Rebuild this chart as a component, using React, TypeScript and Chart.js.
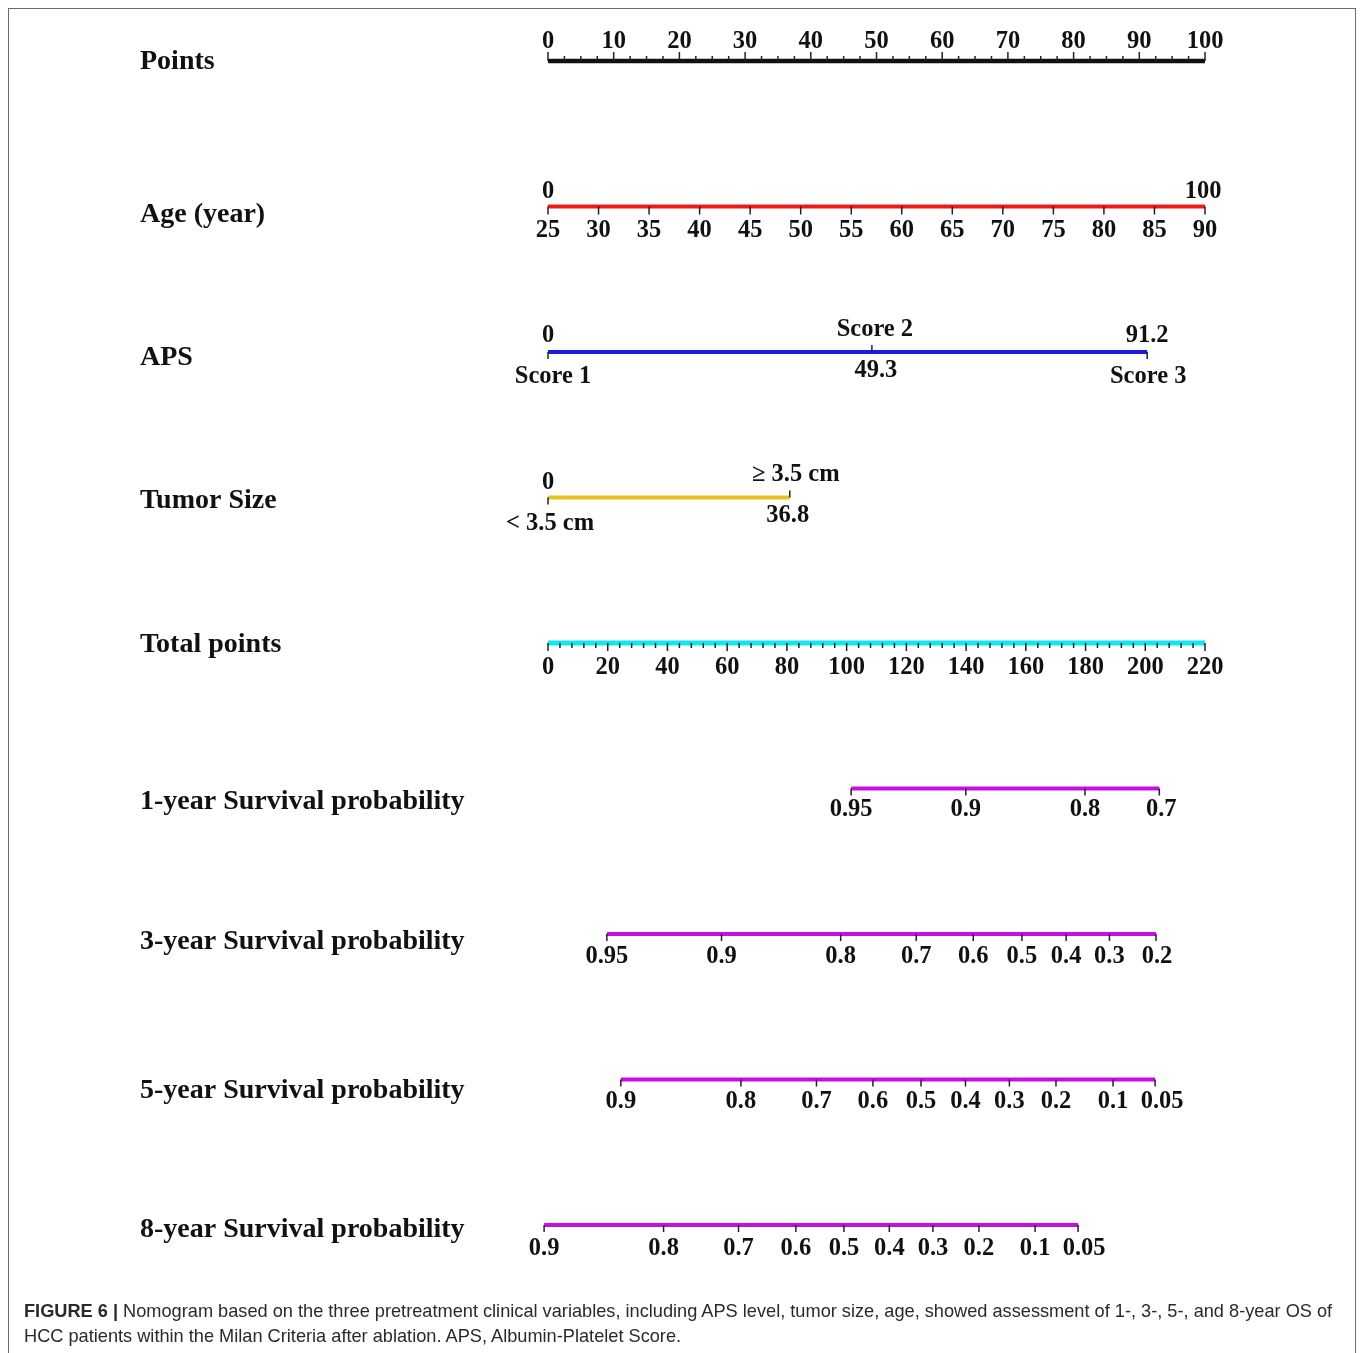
import React, { useEffect, useRef } from "react";
import { Chart, registerables } from "chart.js";

Chart.register(...registerables);

// ---- nomogram content ----
const rowTitles = [
  "Points",
  "Age (year)",
  "APS",
  "Tumor Size",
  "Total points",
  "1-year Survival probability",
  "3-year Survival probability",
  "5-year Survival probability",
  "8-year Survival probability",
];

// Points scale, 0–100
const pointsTicks = [0, 10, 20, 30, 40, 50, 60, 70, 80, 90, 100];
const pointsMinorStep = 2.5;

// Age (years): 25 y -> 0 points, 90 y -> 100 points
const ageTicks = [25, 30, 35, 40, 45, 50, 55, 60, 65, 70, 75, 80, 85, 90];
const ageRange = [25, 90];
const agePointsRange = [0, 100];

// APS levels and their points
const apsLevels = ["Score 1", "Score 2", "Score 3"];
const apsPoints = [0, 49.3, 91.2];

// Tumor size levels and their points
const tumorLevels = ["< 3.5 cm", "\u2265 3.5 cm"];
const tumorPoints = [0, 36.8];

// Total points scale
const totalTicks = [0, 20, 40, 60, 80, 100, 120, 140, 160, 180, 200, 220];
const totalMinorStep = 4;
const totalMax = 220;

// Survival probabilities and the total points where they fall
const surv1Labels = ["0.95", "0.9", "0.8", "0.7"];
const surv1Total = [101.5, 139.9, 179.8, 204.7];

const surv3Labels = ["0.95", "0.9", "0.8", "0.7", "0.6", "0.5", "0.4", "0.3", "0.2"];
const surv3Total = [19.7, 58.1, 98.0, 123.3, 142.4, 158.7, 173.5, 188.0, 203.6];

const surv5Labels = ["0.9", "0.8", "0.7", "0.6", "0.5", "0.4", "0.3", "0.2", "0.1", "0.05"];
const surv5Total = [24.4, 64.6, 89.9, 108.8, 124.9, 139.8, 154.5, 170.1, 189.2, 203.3];

const surv8Labels = ["0.9", "0.8", "0.7", "0.6", "0.5", "0.4", "0.3", "0.2", "0.1", "0.05"];
const surv8Total = [-1.3, 38.7, 63.8, 83.0, 99.1, 114.3, 128.9, 144.3, 163.1, 177.5];

// ---- layout & style ----
const W = 1360;
const H = 1290;
const AXIS_LEFT = 548; // pixel of 0 points
const AXIS_RIGHT = 1205; // pixel of 100 points
const ROW0_Y = 61;
const ROW_GAP = 145.5;
const TITLE_X = 140;
// vertical nudge of each row title relative to its scale line
const TITLE_DY = [1, 8, 6, 3, 2, 13, 8, 11, 5];

const COLORS = {
  points: "#111111",
  age: "#ee1c16",
  aps: "#1a1ae0",
  tumor: "#e6c21c",
  total: "#12e6ee",
  surv: "#c80ee6",
  tick: "#222222",
  text: "#111111",
};

const SERIF = '"Liberation Serif", "Times New Roman", serif';
const TICK_FONT = `bold 24.5px ${SERIF}`;

const agePts = (a: number) =>
  agePointsRange[0] + ((a - ageRange[0]) / (ageRange[1] - ageRange[0])) * (agePointsRange[1] - agePointsRange[0]);
const totalPts = (t: number) => (t * 100) / totalMax;

const survRows = [
  { labels: surv1Labels, total: surv1Total, labelDy: 21, lastDx: 2 },
  { labels: surv3Labels, total: surv3Total, labelDy: 23, lastDx: 1 },
  { labels: surv5Labels, total: surv5Total, labelDy: 22, lastDx: 7 },
  { labels: surv8Labels, total: surv8Total, labelDy: 24, lastDx: 6 },
];

const seg = (a: number, b: number, row: number) => [
  { x: a, y: row },
  { x: b, y: row },
];

const nomogramPlugin = {
  id: "nomogramAxes",
  afterDatasetsDraw(chart: any) {
    const ctx: CanvasRenderingContext2D = chart.ctx;
    const xs = chart.scales.x;
    const ys = chart.scales.y;
    const px = (v: number) => xs.getPixelForValue(v);
    const rowY = (i: number) => ys.getPixelForValue(i);

    ctx.save();
    ctx.strokeStyle = COLORS.tick;
    ctx.lineWidth = 1.5;
    const tick = (x: number, y: number, len: number) => {
      ctx.beginPath();
      ctx.moveTo(x, y);
      ctx.lineTo(x, y + len);
      ctx.stroke();
    };
    const label = (s: string, x: number, y: number) => {
      ctx.fillText(s, x, y);
    };

    // row titles
    ctx.fillStyle = COLORS.text;
    ctx.font = `bold 28px ${SERIF}`;
    ctx.textAlign = "left";
    ctx.textBaseline = "middle";
    rowTitles.forEach((t, i) => ctx.fillText(t, TITLE_X, rowY(i) + TITLE_DY[i]));

    ctx.font = TICK_FONT;
    ctx.textAlign = "center";

    // Points
    let y = rowY(0);
    for (let v = 0; v <= 100 + 1e-9; v += pointsMinorStep) {
      const major = pointsTicks.includes(v);
      tick(px(v), y, major ? -9 : -5);
    }
    pointsTicks.forEach((v) => label(String(v), px(v), y - 19));

    // Age
    y = rowY(1);
    ageTicks.forEach((a) => {
      tick(px(agePts(a)), y, 8);
      label(String(a), px(agePts(a)), y + 24);
    });
    label(String(agePointsRange[0]), px(agePointsRange[0]), y - 15);
    label(String(agePointsRange[1]), px(agePointsRange[1]) - 2, y - 15);

    // APS: alternate tick direction and label placement
    y = rowY(2);
    apsLevels.forEach((name, i) => {
      const p = apsPoints[i];
      const x = px(p);
      const up = i % 2 === 1;
      tick(x, y, up ? -7 : 7);
      if (up) {
        label(name, x + 3, y - 22);
        label(String(p), x + 4, y + 19);
      } else {
        label(String(p), x, y - 16);
        label(name, x + (i === 0 ? 5 : 1), y + 25);
      }
    });

    // Tumor size
    y = rowY(3);
    tumorLevels.forEach((name, i) => {
      const p = tumorPoints[i];
      const x = px(p);
      const up = i % 2 === 1;
      tick(x, y, up ? -7 : 7);
      if (up) {
        label(name, x + 6, y - 23);
        label(String(p), x - 2, y + 18);
      } else {
        label(String(p), x, y - 15);
        label(name, x + 2, y + 26);
      }
    });

    // Total points
    y = rowY(4);
    for (let t = 0; t <= totalMax + 1e-9; t += totalMinorStep) {
      const major = totalTicks.includes(t);
      tick(px(totalPts(t)), y, major ? 8 : 5);
    }
    totalTicks.forEach((t) => label(String(t), px(totalPts(t)), y + 25));

    // Survival probabilities
    survRows.forEach((r, k) => {
      const yy = rowY(5 + k);
      r.total.forEach((t, i) => {
        const x = px(totalPts(t));
        tick(x, yy, 7);
        const dx = i === r.total.length - 1 ? r.lastDx : 0;
        label(r.labels[i], x + dx, yy + r.labelDy);
      });
    });

    ctx.restore();
  },
};

export default function App() {
  const canvasRef = useRef<HTMLCanvasElement | null>(null);

  useEffect(() => {
    const canvas = canvasRef.current;
    if (!canvas) return;
    const ppu = (AXIS_RIGHT - AXIS_LEFT) / 100;

    const lineDs = (data: any[], color: string, width = 4) => ({
      data,
      borderColor: color,
      backgroundColor: color,
      borderWidth: width,
      pointRadius: 0,
      borderCapStyle: "butt" as const,
      tension: 0,
      clip: false as any,
    });

    const chart = new Chart(canvas, {
      type: "line",
      data: {
        datasets: [
          lineDs(seg(pointsTicks[0], pointsTicks[pointsTicks.length - 1], 0), COLORS.points, 4.5),
          lineDs(seg(agePts(ageRange[0]), agePts(ageRange[1]), 1), COLORS.age),
          lineDs(seg(apsPoints[0], apsPoints[apsPoints.length - 1], 2), COLORS.aps),
          lineDs(seg(tumorPoints[0], tumorPoints[tumorPoints.length - 1], 3), COLORS.tumor),
          lineDs(seg(totalPts(0), totalPts(totalMax), 4), COLORS.total, 5),
          ...survRows.map((r, k) =>
            lineDs(seg(totalPts(r.total[0]), totalPts(r.total[r.total.length - 1]), 5 + k), COLORS.surv)
          ),
        ],
      },
      options: {
        animation: false,
        responsive: false,
        devicePixelRatio: 1,
        layout: { padding: 0 },
        events: [],
        plugins: { legend: { display: false }, tooltip: { enabled: false } },
        scales: {
          x: {
            type: "linear",
            display: false,
            min: -AXIS_LEFT / ppu,
            max: (W - AXIS_LEFT) / ppu,
          },
          y: {
            type: "linear",
            display: false,
            reverse: true,
            min: -ROW0_Y / ROW_GAP,
            max: (H - ROW0_Y) / ROW_GAP,
          },
        },
      },
      plugins: [nomogramPlugin],
    });

    return () => chart.destroy();
  }, []);

  return (
    <div>
      <div
        style={{
          position: "fixed",
          left: 8,
          top: 8,
          width: 1348,
          height: 1345,
          boxSizing: "border-box",
          border: "1px solid #6a6a6a",
          borderBottom: "none",
        }}
      />
      <canvas
        ref={canvasRef}
        width={W}
        height={H}
        style={{ position: "fixed", left: 0, top: 0, width: W, height: H }}
      />
      <div
        style={{
          position: "fixed",
          left: 24,
          top: 1299,
          fontFamily: '"Liberation Sans", Arial, sans-serif',
          fontSize: 18.2,
          lineHeight: "25px",
          color: "#2a2a2a",
          whiteSpace: "nowrap",
        }}
      >
        <b>FIGURE 6 |</b> Nomogram based on the three pretreatment clinical variables, including APS level, tumor size,
        age, showed assessment of 1-, 3-, 5-, and 8-year OS of
        <br />
        HCC patients within the Milan Criteria after ablation. APS, Albumin-Platelet Score.
      </div>
    </div>
  );
}
